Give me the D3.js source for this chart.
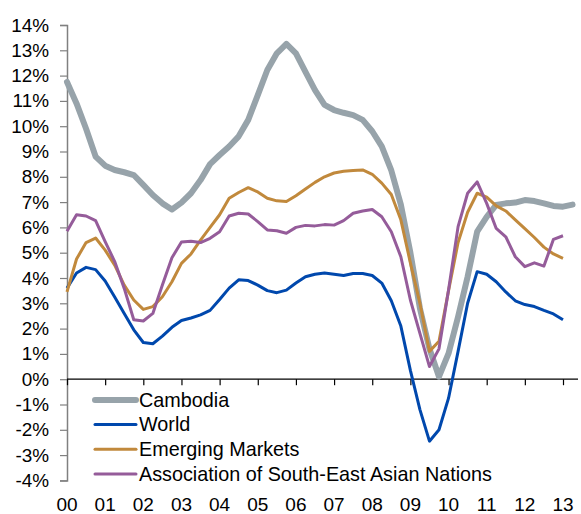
<!DOCTYPE html>
<html>
<head>
<meta charset="utf-8">
<script src="https://cdn.jsdelivr.net/npm/d3@7/dist/d3.min.js"></script>
<style>
  html, body { margin: 0; padding: 0; background: #fff; }
  svg { display: block; }
  text { font-family: "Liberation Sans", Arial, Helvetica, sans-serif; fill: #000; }
</style>
</head>
<body>
<svg id="chart" width="581" height="514"></svg>
<script>
// Year labels on the x axis (one tick per year, quarterly data points)
const years = ["00","01","02","03","04","05","06","07","08","09","10","11","12","13"];

// y axis tick values (percent)
const yTicks = [-4,-3,-2,-1,0,1,2,3,4,5,6,7,8,9,10,11,12,13,14];

// Quarterly growth rates, % y/y, starting 2000 Q1
const cambodia = [11.75,10.9,9.9,8.8,8.44,8.27,8.18,8.07,7.68,7.28,
  6.95,6.71,6.98,7.35,7.87,8.5,8.86,9.2,9.6,10.25,
  11.23,12.22,12.88,13.25,12.88,12.15,11.43,10.84,10.64,10.53,
  10.44,10.25,9.8,9.2,8.25,6.9,5.0,2.8,1.2,0.1,
  1.02,2.47,4.05,5.83,6.42,6.89,6.95,6.98,7.08,7.04,
  6.95,6.85,6.82,6.9];

const world = [3.6,4.2,4.42,4.33,3.88,3.25,2.6,1.95,1.45,1.4,
  1.7,2.05,2.32,2.42,2.54,2.72,3.15,3.6,3.93,3.9,
  3.72,3.5,3.42,3.52,3.8,4.05,4.15,4.2,4.15,4.1,
  4.18,4.18,4.1,3.8,3.1,2.1,0.35,-1.2,-2.45,-2.0,
  -0.75,1.1,3.0,4.25,4.15,3.85,3.45,3.1,2.95,2.87,
  2.72,2.58,2.35];

const emerging = [3.45,4.75,5.4,5.58,5.1,4.51,3.72,3.13,2.76,2.87,
  3.26,3.85,4.58,4.95,5.5,6.0,6.5,7.15,7.38,7.57,
  7.4,7.15,7.05,7.02,7.25,7.52,7.78,8.0,8.15,8.22,
  8.25,8.27,8.1,7.75,7.3,6.3,4.6,3.0,1.1,1.5,
  3.5,5.4,6.6,7.35,7.2,6.85,6.65,6.3,5.95,5.6,
  5.22,4.95,4.78];

const asean = [5.85,6.5,6.45,6.27,5.44,4.65,3.59,2.35,2.3,2.6,
  3.72,4.8,5.42,5.45,5.4,5.57,5.83,6.45,6.56,6.53,
  6.23,5.9,5.87,5.77,6.0,6.08,6.06,6.11,6.09,6.27,
  6.56,6.65,6.71,6.42,5.83,4.84,3.13,1.81,0.5,1.2,
  3.53,6.03,7.35,7.8,6.95,5.96,5.63,4.84,4.45,4.6,
  4.47,5.53,5.67];

const seriesNames = ["Cambodia","World","Emerging Markets","Association of South-East Asian Nations"];
const seriesColors = ["#97a3aa","#0048ad","#c1893c","#955c9a"];
const seriesWidths = [6, 3, 3, 3];
const seriesData = [cambodia, world, emerging, asean];

const svg = d3.select("#chart");

// Scales: quarter index on x, percent on y
const x = d3.scaleLinear().domain([0, (years.length - 1) * 4]).range([67, 563]);
const y = d3.scaleLinear().domain([-4, 14]).range([480.4, 25]);

// y axis: grey line, ticks pointing left
const yAxis = d3.axisLeft(y)
  .tickValues(yTicks)
  .tickSize(7)
  .tickPadding(11)
  .tickFormat(d => d + "%");

const gy = svg.append("g")
  .attr("transform", "translate(67,0)")
  .call(yAxis);
gy.select(".domain").attr("stroke", "#808080").attr("stroke-width", 1.5);
gy.selectAll(".tick line").attr("stroke", "#808080").attr("stroke-width", 1.2);
gy.selectAll(".tick text")
  .style("font-size", "18.9px")
  .style("font-family", "'Liberation Sans', Arial, sans-serif")
  .attr("fill", "#000");

// x axis at 0%: black line with year ticks pointing down
const xAxis = d3.axisBottom(x)
  .tickValues(years.map((_, i) => i * 4))
  .tickSize(6)
  .tickFormat(() => "");

const gx = svg.append("g")
  .attr("transform", `translate(0,${y(0)})`)
  .call(xAxis);
gx.select(".domain").remove();
gx.selectAll(".tick line").attr("stroke", "#000").attr("stroke-width", 1.2);
gx.append("line")
  .attr("x1", x(0)).attr("x2", 578)
  .attr("y1", 0).attr("y2", 0)
  .attr("stroke", "#000").attr("stroke-width", 1.3);

// year labels along the bottom
svg.append("g").selectAll("text")
  .data(years)
  .join("text")
  .attr("x", (d, i) => x(i * 4))
  .attr("y", 511)
  .attr("text-anchor", "middle")
  .style("font-size", "19px")
  .text(d => d);

// series lines
const line = d3.line()
  .x((d, i) => x(i))
  .y(d => y(d));

svg.append("g").selectAll("path")
  .data(seriesData)
  .join("path")
  .attr("d", d => line(d))
  .attr("fill", "none")
  .attr("stroke", (d, i) => seriesColors[i])
  .attr("stroke-width", (d, i) => seriesWidths[i])
  .attr("stroke-linejoin", "round")
  .attr("stroke-linecap", (d, i) => i === 0 ? "round" : "butt");

// legend
const legend = svg.append("g");
const rowY = [400, 424.5, 449.2, 474];
seriesNames.forEach((name, i) => {
  legend.append("line")
    .attr("x1", 95).attr("x2", 136)
    .attr("y1", rowY[i]).attr("y2", rowY[i])
    .attr("stroke", seriesColors[i])
    .attr("stroke-width", seriesWidths[i])
    .attr("stroke-linecap", "round");
  legend.append("text")
    .attr("x", 139)
    .attr("y", rowY[i])
    .attr("dy", "0.35em")
    .style("font-size", "19.8px")
    .text(name);
});
</script>
</body>
</html>
